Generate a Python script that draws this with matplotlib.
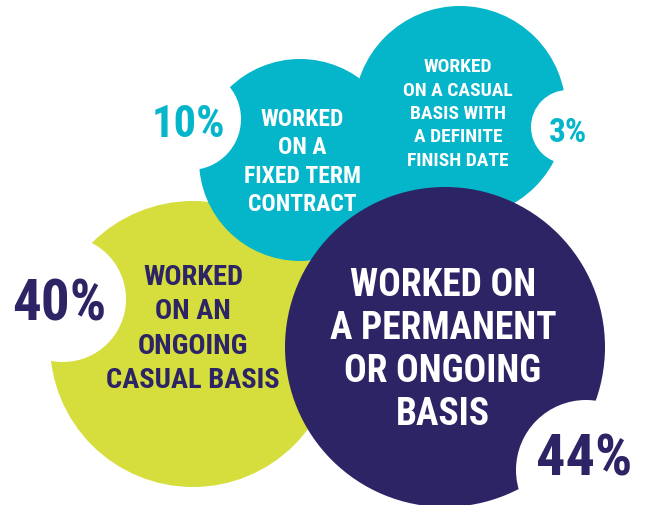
import matplotlib
matplotlib.use("Agg")
import matplotlib.pyplot as plt
from matplotlib.patches import Circle
from matplotlib import font_manager

# --- data -------------------------------------------------------------
categories = [
    "WORKED\nON AN\nONGOING\nCASUAL BASIS",
    "WORKED\nON A\nFIXED TERM\nCONTRACT",
    "WORKED\nON A CASUAL\nBASIS WITH\nA DEFINITE\nFINISH DATE",
    "WORKED ON\nA PERMANENT\nOR ONGOING\nBASIS",
]
shares = [40, 10, 3, 44]

# --- layout (pixels, y down) -----------------------------------------
W, H = 649, 506
YELLOW = "#D5DE3C"
TEAL = "#05B5CA"
NAVY = "#2D2466"

# big circle centre/radius, notch centre/radius
bubbles = [
    dict(c=(193, 345), r=143, notch=(63, 300), nr=63, col=YELLOW, z=1),
    dict(c=(300, 161), r=101, notch=(190, 120), nr=51, col=TEAL, z=2),
    dict(c=(460, 113), r=106, notch=(568, 128), nr=37, col=TEAL, z=2),
    dict(c=(445, 348), r=160, notch=(586, 471), nr=70, col=NAVY, z=3),
]
# label block: (x, y, size, linespacing, colour); pct: (x, y, size, colour)
label_style = [
    (193, 329, 20.5, 1.36, NAVY),
    (302, 162, 17, 1.28, "white"),
    (458, 114, 14, 1.38, "white"),
    (443, 350, 27, 1.21, "white"),
]
pct_style = [
    (59, 305, 41, NAVY),
    (188, 125, 32, TEAL),
    (568, 133, 24, TEAL),
    (584, 460, 42, NAVY),
]

# condensed bold face if one is around
names = {f.name for f in font_manager.fontManager.ttflist}
family, stretch = "Roboto", "normal"
for cand in ["Roboto Condensed", "Liberation Sans Narrow", "Open Sans Condensed"]:
    if cand in names:
        family = cand
        break
else:
    if any(f.name == "DejaVu Sans" and str(f.stretch) == "condensed"
           for f in font_manager.fontManager.ttflist):
        family, stretch = "DejaVu Sans", "condensed"

fig = plt.figure(figsize=(W / 100, H / 100), dpi=100)
ax = fig.add_axes([0, 0, 1, 1])
ax.set_xlim(0, W)
ax.set_ylim(H, 0)
ax.set_aspect("equal")
ax.axis("off")

for b in bubbles:
    ax.add_patch(Circle(b["c"], b["r"], color=b["col"], zorder=b["z"], lw=0))
for b in bubbles:
    ax.add_patch(Circle(b["notch"], b["nr"], color="white", zorder=5, lw=0))

for text, (x, y, size, ls, col) in zip(categories, label_style):
    ax.text(x, y, text, ha="center", va="center", multialignment="center",
            fontsize=size, linespacing=ls, color=col, fontweight="bold",
            family=family, fontstretch=stretch, zorder=10)

for val, (x, y, size, col) in zip(shares, pct_style):
    ax.text(x, y, f"{val}%", ha="center", va="center", fontsize=size,
            color=col, fontweight="bold", family=family, fontstretch=stretch,
            zorder=10)

fig.savefig("out.png", dpi=100)
